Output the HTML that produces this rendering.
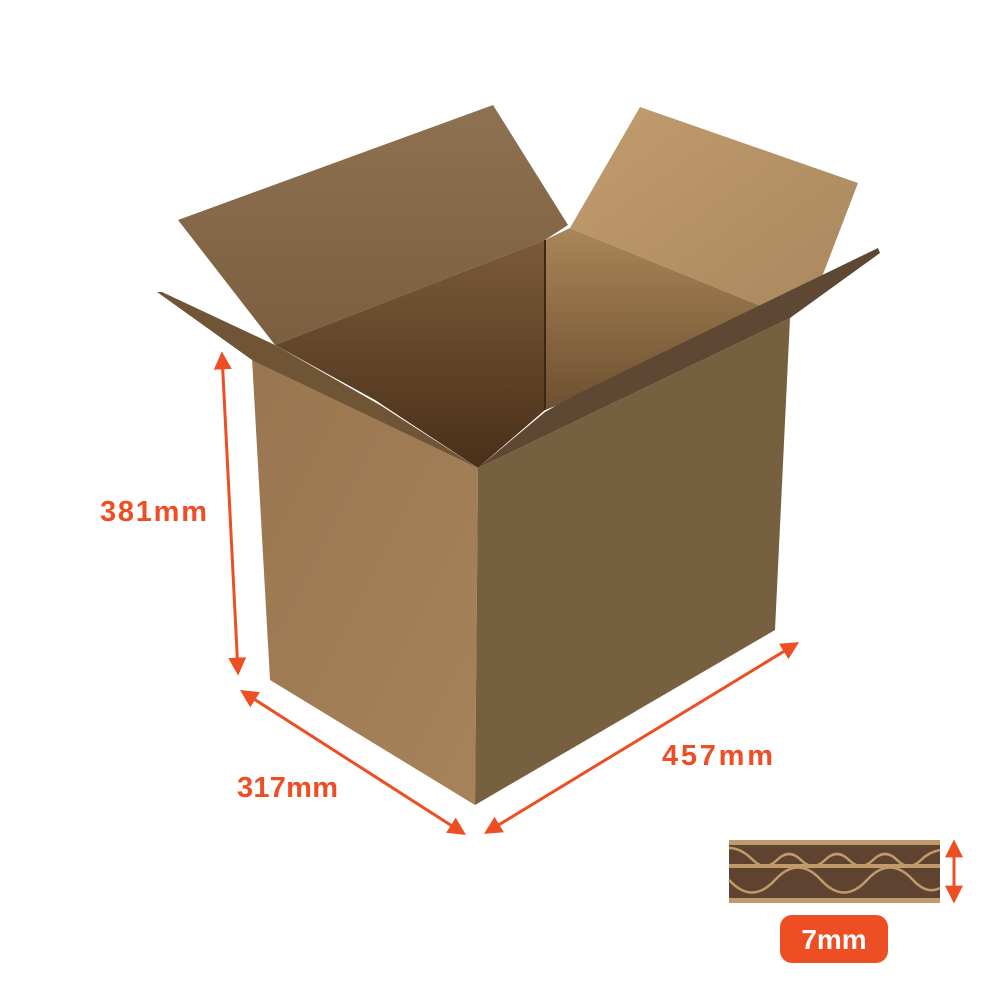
<!DOCTYPE html>
<html><head><style>
html,body{margin:0;padding:0;background:#fff;}
svg{display:block}
text{font-family:"Liberation Sans",sans-serif;font-weight:bold;}
</style></head><body>
<svg width="1000" height="1000" viewBox="0 0 1000 1000">
<defs>
<linearGradient id="lf" x1="0" y1="0" x2="1" y2="1"><stop offset="0" stop-color="#9a7650"/><stop offset="1" stop-color="#a6835a"/></linearGradient>
<linearGradient id="bf" x1="0" y1="0" x2="0" y2="1"><stop offset="0" stop-color="#8e7150"/><stop offset="1" stop-color="#7a5f40"/></linearGradient>
<linearGradient id="rf" x1="0" y1="0" x2="1" y2="1"><stop offset="0" stop-color="#c19c6e"/><stop offset="1" stop-color="#a9875d"/></linearGradient>
<linearGradient id="iw" x1="0" y1="0" x2="0" y2="1"><stop offset="0" stop-color="#7a5a3a"/><stop offset="1" stop-color="#4a3019"/></linearGradient>
<linearGradient id="iw2" x1="0" y1="0" x2="0" y2="1"><stop offset="0" stop-color="#a98658"/><stop offset="1" stop-color="#6e5030"/></linearGradient>
<marker id="ah" viewBox="0 0 10 10" refX="8" refY="5" markerWidth="6" markerHeight="6" orient="auto-start-reverse"><path d="M0,0 L10,5 L0,10 z" fill="#ee4e24"/></marker>
</defs>
<polygon points="178,220 493,105 568,225 545,240 275,345" fill="url(#bf)"/>
<polygon points="570,228 640,107 858,183 815,295 790,318" fill="url(#rf)"/>
<polygon points="275,345 545,240 545,410 478,468 375,400" fill="url(#iw)"/>
<polygon points="545,240 570,228 790,318 545,410" fill="url(#iw2)"/>
<line x1="545" y1="240" x2="545" y2="410" stroke="#3a2818" stroke-width="2"/>
<polygon points="252,358 478,468 475,805 270,680" fill="url(#lf)"/>
<polygon points="478,468 790,318 775,630 475,805" fill="#77603f"/>
<polygon points="157,292 162,292 275,345 380,405 478,468 252,360" fill="#6f5536"/>
<polygon points="878,248 880,253 790,318 478,468 545,412 575,395" fill="#5e4834"/>
<g stroke="#ee4e24" stroke-width="3" fill="none">
<line x1="222" y1="355" x2="238" y2="672" marker-start="url(#ah)" marker-end="url(#ah)"/>
<line x1="243" y1="692" x2="463" y2="833" marker-start="url(#ah)" marker-end="url(#ah)"/>
<line x1="487" y1="832" x2="796" y2="644" marker-start="url(#ah)" marker-end="url(#ah)"/>
<line x1="954" y1="843" x2="954" y2="900" marker-start="url(#ah)" marker-end="url(#ah)"/>
</g>
<text x="100" y="521" font-size="29" fill="#ee4e24" textLength="107">381mm</text>
<text x="237" y="797" font-size="29" fill="#ee4e24" textLength="101">317mm</text>
<text x="662" y="765" font-size="29" fill="#ee4e24" textLength="111">457mm</text>
<rect x="729" y="840" width="211" height="63" fill="#c09a6a"/>
<rect x="729" y="845" width="211" height="19" fill="#5e4330"/>
<rect x="729" y="868" width="211" height="30" fill="#5e4330"/>
<path d="M729,848 q12,0 24,12 q12,12 24,0 q12,-12 24,0 q12,12 24,0 q12,-12 24,0 q12,12 24,0 q12,-12 24,0 q12,12 24,0 q8,-8 19,-10" stroke="#c09a6a" stroke-width="2.5" fill="none"/>
<path d="M729,872 q23,25 46,0 q23,-25 46,0 q23,25 46,0 q23,-25 46,0 q14,15 27,8" stroke="#c09a6a" stroke-width="2.5" fill="none" transform="translate(0,8)"/>
<rect x="780" y="915" width="108" height="48" rx="12" fill="#ee4e24"/>
<text x="834" y="949" font-size="28" fill="#fff" text-anchor="middle">7mm</text>
</svg>
</body></html>
